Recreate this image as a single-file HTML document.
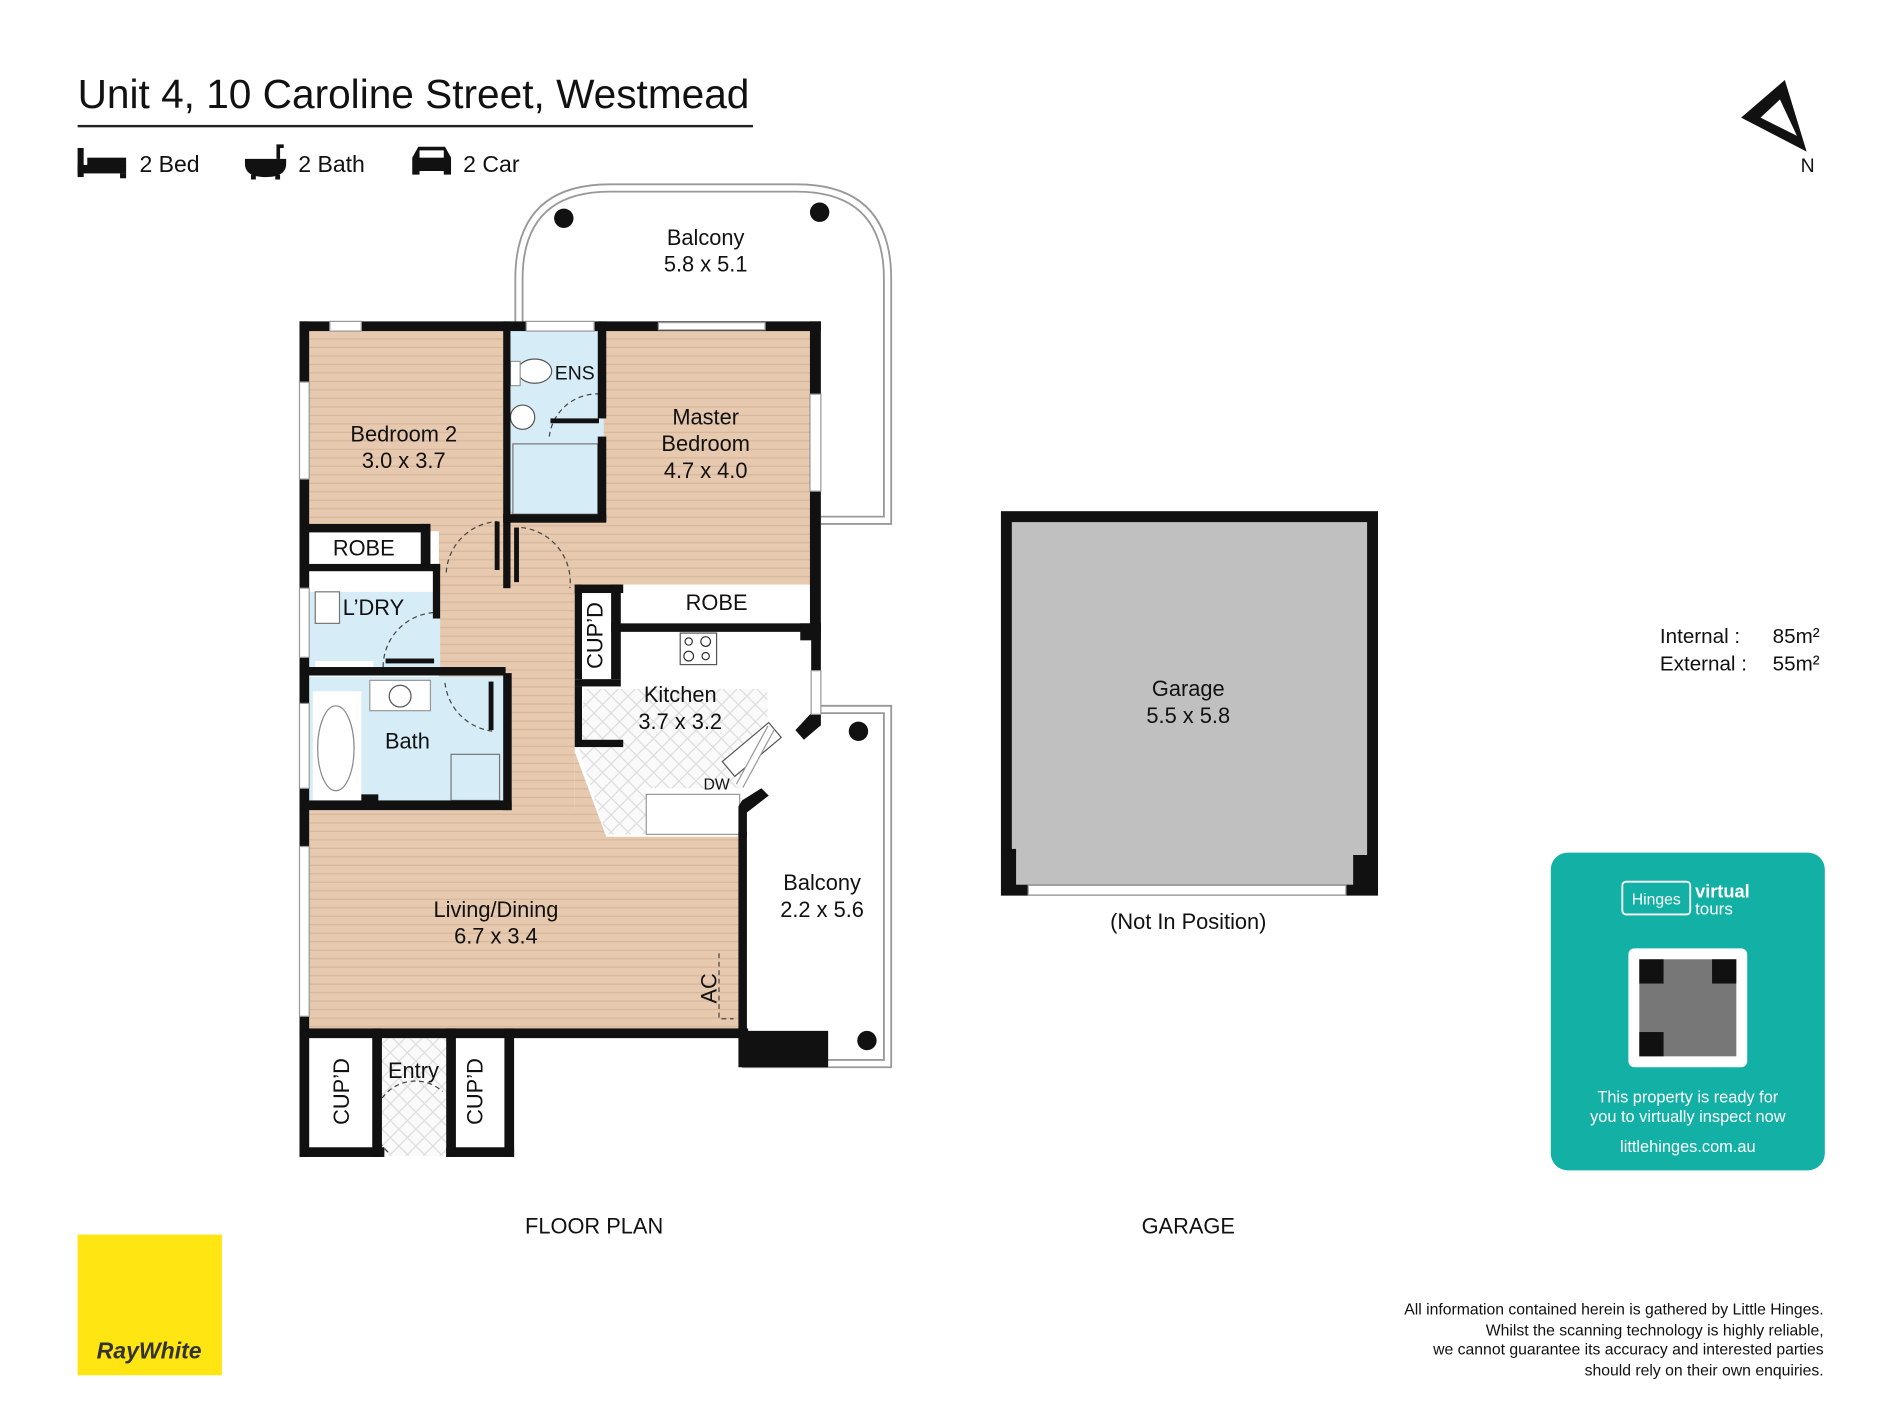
<!DOCTYPE html>
<html><head><meta charset="utf-8"><style>
html,body{margin:0;padding:0;background:#fff;width:1900px;height:1425px;overflow:hidden}
svg{display:block}
text{font-family:"Liberation Sans",Arial,sans-serif;fill:#111}
</style></head><body>
<svg width="1900" height="1425" viewBox="0 0 1567 1175" preserveAspectRatio="none">
<defs>
<pattern id="wood" width="10" height="7" patternUnits="userSpaceOnUse">
<rect width="10" height="7" fill="#e6c9ae"/><rect y="6" width="10" height="1" fill="#d6b79c"/>
</pattern>
<pattern id="tile" width="14" height="14" patternUnits="userSpaceOnUse">
<rect width="14" height="14" fill="#fafafa"/><path d="M0 0L14 14M14 0L0 14" stroke="#ddd" stroke-width="1"/>
</pattern>
</defs>
<text x="64" y="89" font-size="33.5">Unit 4, 10 Caroline Street, Westmead</text>
<rect x="64" y="103" width="557" height="2" fill="#222"/>
<g fill="#111">
<rect x="64" y="122" width="5" height="24"/><rect x="64" y="136" width="40" height="7"/><rect x="72" y="130" width="32" height="7"/><rect x="99" y="143" width="5" height="4"/>
<path d="M202 131h34v4c0 8-7 11-17 11s-17-3-17-11z"/><rect x="207" y="144" width="4" height="4"/><rect x="227" y="144" width="4" height="4"/><path d="M228 131v-12h6v3h-3v9z"/>
<path d="M340 130l5-9h22l5 9v14h-6v-3h-20v3h-6z"/>
</g>
<rect x="346" y="124" width="20" height="6" fill="#fff"/>
<text x="115" y="142" font-size="19">2 Bed</text>
<text x="246" y="142" font-size="19">2 Bath</text>
<text x="382" y="142" font-size="19">2 Car</text>
<path d="M1472 66L1490 125L1436 97Z" fill="#111"/><path d="M1468 82L1482 112L1452 97Z" fill="#fff"/>
<text x="1485" y="142" font-size="16">N</text>

<path d="M425 266V230Q425 152 503 152H657Q735 152 735 230V432H677" fill="none" stroke="#999" stroke-width="1.5"/>
<path d="M431 266V230Q431 158 503 158H657Q729 158 729 230V426H677" fill="none" stroke="#999" stroke-width="1.5"/>
<circle cx="465" cy="180" r="8" fill="#111"/><circle cx="676" cy="175" r="8" fill="#111"/>
<text x="582" y="202" font-size="18" text-anchor="middle">Balcony</text>
<text x="582" y="224" font-size="18" text-anchor="middle">5.8 x 5.1</text>

<path d="M677 582H735V880H612" fill="none" stroke="#999" stroke-width="1.5"/>
<path d="M677 588H729V874H612" fill="none" stroke="#999" stroke-width="1.5"/>
<circle cx="708" cy="603" r="8" fill="#111"/><circle cx="715" cy="858" r="8" fill="#111"/>
<rect x="609" y="850" width="74" height="30" fill="#111"/>
<text x="678" y="734" font-size="18" text-anchor="middle">Balcony</text>
<text x="678" y="756" font-size="18" text-anchor="middle">2.2 x 5.6</text>

<rect x="255" y="272" width="160" height="166" fill="url(#wood)"/>
<rect x="415" y="272" width="255" height="210" fill="url(#wood)"/>
<rect x="362" y="430" width="112" height="420" fill="url(#wood)"/>
<path d="M474 620L500 690H612V850H255V668H474Z" fill="url(#wood)"/>
<rect x="420" y="272" width="78" height="150" fill="#d6ecf7"/>
<rect x="255" y="488" width="108" height="65" fill="#d6ecf7"/>
<rect x="255" y="558" width="163" height="105" fill="#d6ecf7"/>
<path d="M482 568H633V612L610 650H533V688H500L478 620Z" fill="url(#tile)"/>
<rect x="315" y="855" width="55" height="98" fill="url(#tile)"/>
<rect x="255" y="437" width="92" height="30" fill="#fff"/>
<rect x="512" y="482" width="157" height="32" fill="#fff"/>
<rect x="474" y="490" width="30" height="70" fill="#fff"/>
<rect x="255" y="863" width="52" height="80" fill="#fff"/><rect x="376" y="863" width="40" height="80" fill="#fff"/>
<rect x="533" y="655" width="77" height="33" fill="#fff" stroke="#999" stroke-width="1"/>
<rect x="258" y="570" width="40" height="90" fill="#fff"/>
<ellipse cx="277" cy="617" rx="15" ry="35" fill="#fff" stroke="#888"/>
<rect x="305" y="561" width="50" height="25" fill="#fff" stroke="#999"/><circle cx="330" cy="574" r="9" fill="none" stroke="#555"/>
<rect x="372" y="622" width="40" height="38" fill="#d6ecf7" stroke="#777"/>
<rect x="423" y="366" width="70" height="58" fill="#d6ecf7" stroke="#777"/>
<ellipse cx="441" cy="306" rx="14" ry="10" fill="#fff" stroke="#555"/><rect x="421" y="298" width="8" height="20" fill="#fff" stroke="#999"/>
<circle cx="431" cy="344" r="10" fill="#fff" stroke="#555"/>
<rect x="561" y="522" width="30" height="26" fill="#fff" stroke="#555"/>
<circle cx="568" cy="529" r="3" fill="none" stroke="#333"/><circle cx="582" cy="529" r="4" fill="none" stroke="#333"/><circle cx="568" cy="541" r="4" fill="none" stroke="#333"/><circle cx="582" cy="541" r="3" fill="none" stroke="#333"/>
<rect x="260" y="488" width="20" height="26" fill="#fff" stroke="#777"/>
<rect x="260" y="545" width="48" height="10" fill="#fff"/>
<g transform="translate(620,618) rotate(-40)"><rect x="-25" y="-8" width="50" height="16" fill="#fff" stroke="#555"/></g>

<g fill="none" stroke="#444" stroke-width="1" stroke-dasharray="4,3">
<path d="M368 472A45 45 0 0 1 410 430"/>
<path d="M430 435A45 45 0 0 1 470 485"/>
<path d="M316 550A45 45 0 0 1 360 505"/>
<path d="M367 563A45 45 0 0 0 407 603"/>
<path d="M453 360A40 40 0 0 1 497 325"/>
<path d="M320 950A30 30 0 0 1 365 900"/>
<path d="M593 786V840H605"/>
</g>

<g fill="#111">
<rect x="247" y="265" width="430" height="8"/>
<rect x="247" y="265" width="8" height="590"/>
<rect x="668" y="265" width="9" height="255"/>
<rect x="247" y="848" width="370" height="8"/>
<rect x="609" y="686" width="7" height="170"/>
<rect x="415" y="265" width="6" height="220"/>
<rect x="493" y="265" width="7" height="80"/><rect x="493" y="360" width="7" height="70"/>
<rect x="415" y="424" width="85" height="7"/>
<rect x="454" y="345" width="40" height="4"/>
<rect x="408" y="430" width="4" height="40"/><rect x="424" y="435" width="4" height="45"/>
<rect x="247" y="432" width="108" height="7"/><rect x="347" y="432" width="8" height="35"/>
<rect x="247" y="465" width="116" height="6"/><rect x="357" y="465" width="6" height="45"/>
<rect x="247" y="550" width="170" height="7"/><rect x="318" y="543" width="40" height="4"/>
<rect x="415" y="555" width="7" height="113"/><rect x="403" y="562" width="4" height="40"/>
<rect x="247" y="660" width="175" height="8"/><rect x="298" y="655" width="14" height="8"/>
<rect x="474" y="482" width="40" height="7"/><rect x="474" y="482" width="6" height="78"/><rect x="504" y="482" width="8" height="78"/>
<rect x="504" y="514" width="173" height="7"/>
<rect x="474" y="560" width="38" height="6"/><rect x="474" y="566" width="6" height="50"/><rect x="480" y="610" width="34" height="6"/>
<rect x="660" y="514" width="17" height="14"/><rect x="669" y="520" width="8" height="40"/>
<path d="M669 588L677 588L677 598L663 610L656 602Z"/>
<path d="M612 660L628 650L634 656L616 670V690H609V665Z"/>
<rect x="247" y="848" width="8" height="106"/><rect x="247" y="946" width="70" height="8"/><rect x="368" y="946" width="56" height="8"/>
<rect x="307" y="848" width="8" height="106"/><rect x="368" y="848" width="8" height="106"/><rect x="416" y="848" width="8" height="106"/>
</g>
<g fill="#fff" stroke="#999" stroke-width="1">
<rect x="272" y="265" width="26" height="8"/><rect x="434" y="265" width="56" height="8"/><rect x="543" y="266" width="88" height="6"/>
<rect x="247" y="315" width="8" height="80"/><rect x="247" y="485" width="8" height="57"/><rect x="247" y="580" width="8" height="70"/><rect x="247" y="698" width="8" height="140"/>
<rect x="668" y="325" width="9" height="80"/><rect x="669" y="553" width="8" height="36"/>
</g>
<path d="M636 600L610 648" stroke="#999" stroke-width="7"/><path d="M636 600L610 648" stroke="#fff" stroke-width="5"/>

<rect x="830" y="426" width="302" height="308" fill="#c0c0c0" stroke="#111" stroke-width="9"/>
<rect x="826" y="700" width="12" height="38" fill="#111"/><rect x="1116" y="705" width="20" height="33" fill="#111"/>
<rect x="848" y="730" width="262" height="8" fill="#fff" stroke="#999"/>

<g font-size="18" text-anchor="middle">
<text x="333" y="364">Bedroom 2</text><text x="333" y="386">3.0 x 3.7</text>
<text x="582" y="350">Master</text><text x="582" y="372">Bedroom</text><text x="582" y="394">4.7 x 4.0</text>
<text x="300" y="458">ROBE</text><text x="591" y="503">ROBE</text>
<text x="308" y="507">L’DRY</text>
<text x="336" y="617">Bath</text>
<text x="561" y="579">Kitchen</text><text x="561" y="601">3.7 x 3.2</text>
<text x="409" y="756">Living/Dining</text><text x="409" y="778">6.7 x 3.4</text>
<text x="341" y="889">Entry</text>
<text x="980" y="574">Garage</text><text x="980" y="596">5.5 x 5.8</text>
<text x="980" y="766">(Not In Position)</text>
<text x="490" y="1017">FLOOR PLAN</text><text x="980" y="1017">GARAGE</text>
</g>
<text x="474" y="313" font-size="16" text-anchor="middle">ENS</text>
<text x="591" y="651" font-size="13" text-anchor="middle">DW</text>
<text transform="translate(497,524) rotate(-90)" font-size="18" text-anchor="middle">CUP’D</text>
<text transform="translate(288,900) rotate(-90)" font-size="18" text-anchor="middle">CUP’D</text>
<text transform="translate(398,900) rotate(-90)" font-size="18" text-anchor="middle">CUP’D</text>
<text transform="translate(591,815) rotate(-90)" font-size="18" text-anchor="middle">AC</text>

<text x="1369" y="530" font-size="17">Internal  :</text><text x="1462" y="530" font-size="17">85m²</text>
<text x="1369" y="553" font-size="17">External :</text><text x="1462" y="553" font-size="17">55m²</text>

<rect x="1279" y="703" width="226" height="262" rx="14" fill="#13b0a5"/>
<rect x="1338" y="727" width="56" height="27" rx="3" fill="none" stroke="#fff" stroke-width="1.5"/>
<text x="1366" y="746" font-size="13" text-anchor="middle" style="fill:#fff">Hinges</text>
<text x="1398" y="740" font-size="15" font-weight="bold" style="fill:#fff">virtual</text>
<text x="1398" y="754" font-size="14" style="fill:#fff">tours</text>
<rect x="1343" y="782" width="98" height="98" rx="5" fill="#fff"/>
<g fill="#111">
<rect x="1352" y="791" width="80" height="80" fill="#777"/>
<rect x="1352" y="791" width="20" height="20"/><rect x="1412" y="791" width="20" height="20"/><rect x="1352" y="851" width="20" height="20"/>
</g>
<text x="1392" y="909" font-size="13.5" text-anchor="middle" style="fill:#fff">This property is ready for</text>
<text x="1392" y="925" font-size="13.5" text-anchor="middle" style="fill:#fff">you to virtually inspect now</text>
<text x="1392" y="950" font-size="13.5" text-anchor="middle" style="fill:#fff">littlehinges.com.au</text>

<rect x="64" y="1018" width="119" height="116" fill="#ffe512"/>
<text x="123" y="1120" font-size="19" font-weight="bold" font-style="italic" text-anchor="middle" style="fill:#333">RayWhite</text>

<g font-size="13" text-anchor="end">
<text x="1504" y="1084">All information contained herein is gathered by Little Hinges.</text>
<text x="1504" y="1101">Whilst the scanning technology is highly reliable,</text>
<text x="1504" y="1117">we cannot guarantee its accuracy and interested parties</text>
<text x="1504" y="1134">should rely on their own enquiries.</text>
</g>
</svg>
</body></html>
